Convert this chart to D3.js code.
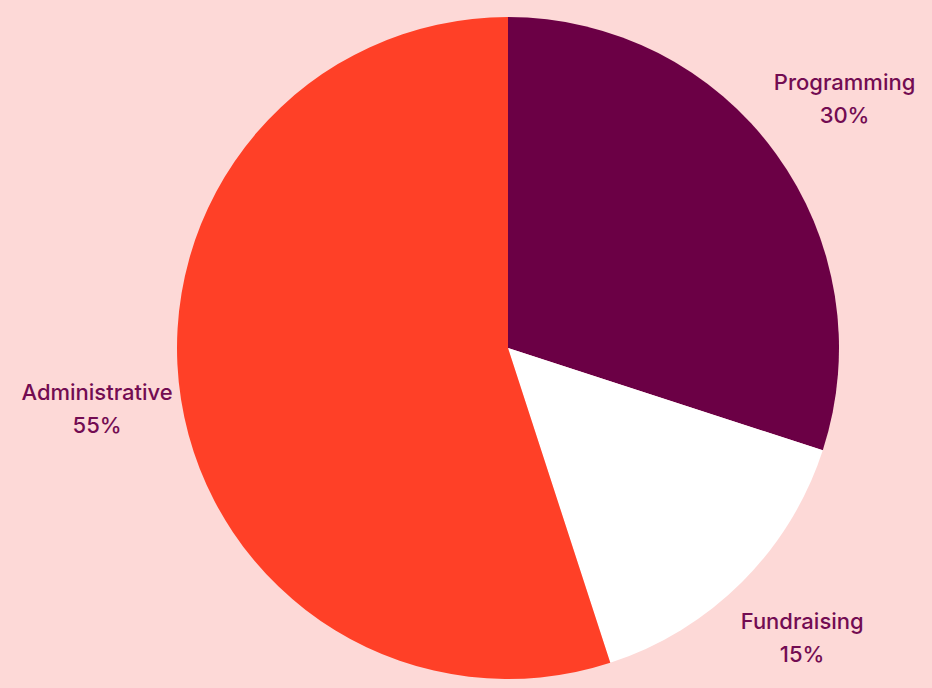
<!DOCTYPE html>
<html>
<head>
<meta charset="utf-8">
<script src="https://cdn.jsdelivr.net/npm/d3@7"></script>
<style>
  html, body { margin: 0; padding: 0; background: #fdd9d7; }
  svg { display: block; }
</style>
</head>
<body>
<div id="chart"></div>
<script>
const categories = ["Programming", "Fundraising", "Administrative"];
const values = [30, 15, 55];
const colors = ["#6b0045", "#ffffff", "#ff4027"];

const width = 932;
const height = 688;
const cx = 508, cy = 348;
const radius = 331;
const labelRadius = 416;

const data = categories.map((c, i) => ({ name: c, value: values[i], color: colors[i] }));

const svg = d3.select("#chart")
  .append("svg")
  .attr("width", width)
  .attr("height", height);

const g = svg.append("g").attr("transform", `translate(${cx},${cy})`);

const pie = d3.pie().sort(null).value((d) => d.value);
const arc = d3.arc().innerRadius(0).outerRadius(radius);
const labelArc = d3.arc().innerRadius(labelRadius).outerRadius(labelRadius);

const arcs = pie(data);

g.selectAll("path")
  .data(arcs)
  .join("path")
  .attr("d", arc)
  .attr("fill", (d) => d.data.color);

// labels, two lines centred on the label point
const label = g.selectAll(".label")
  .data(arcs)
  .join("text")
  .attr("class", "label")
  .attr("transform", (d) => {
    const [x, y] = labelArc.centroid(d);
    return `translate(${x},${y - 9})`;
  })
  .attr("text-anchor", "middle")
  .attr("fill", "#730c52")
  .style("font-family", "Inter, 'Noto Sans', sans-serif")
  .style("font-size", "22px")
  .style("font-weight", 500);

label.append("tspan")
  .attr("x", 0)
  .attr("dy", "-0.2em")
  .text((d) => d.data.name);

label.append("tspan")
  .attr("x", 0)
  .attr("dy", "1.5em")
  .text((d) => d.data.value + "%");
</script>
</body>
</html>
